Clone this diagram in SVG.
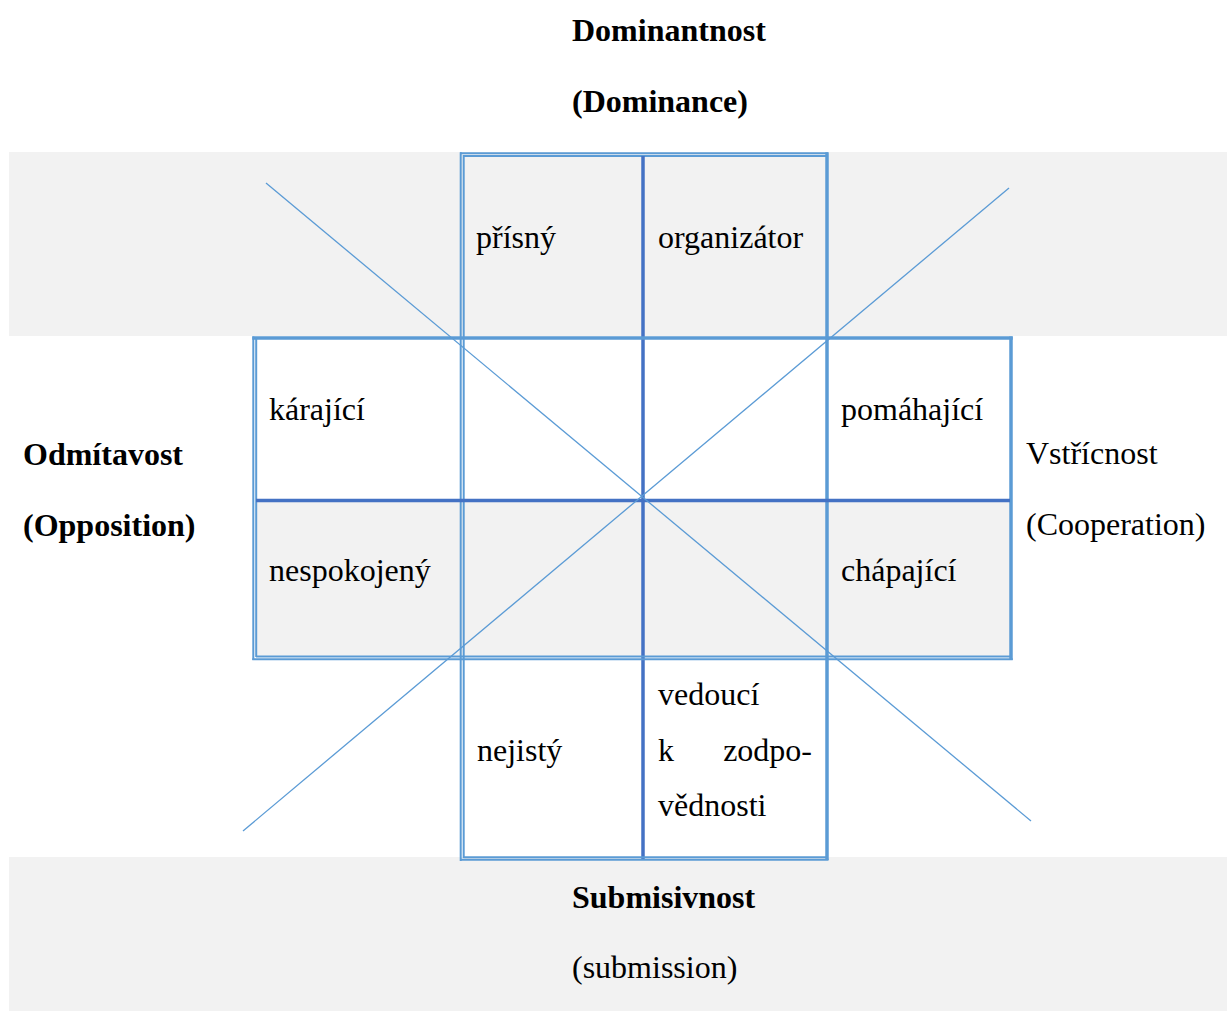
<svg xmlns="http://www.w3.org/2000/svg" width="1227" height="1011" viewBox="0 0 1227 1011">
  <style>
    .t { font-family: "Liberation Serif", "Times New Roman", serif; font-size: 32px; fill: #000; }
    .b { font-weight: bold; }
    .band { fill: #F2F2F2; }
    .lb { stroke: #5B9BD5; fill: none; }
    .db { stroke: #4472C4; fill: none; }
    .thin { stroke-width: 2; }
    .thick { stroke-width: 3.5; }
    .diag { stroke: #5B9BD5; stroke-width: 1.3; fill: none; }
  </style>

  <rect width="1227" height="1011" fill="#FFFFFF"/>

  <!-- shaded bands and shaded cells -->
  <g id="shading">
    <rect class="band" x="9" y="152" width="1218" height="184"/>
    <rect class="band" x="257" y="501" width="753" height="155"/>
    <rect class="band" x="9" y="857" width="1218" height="154"/>
  </g>

  <!-- axis labels -->
  <g id="axis-top">
    <text class="t b" x="572" y="41">Dominantnost</text>
    <text class="t b" x="572" y="112">(Dominance)</text>
  </g>
  <g id="axis-left">
    <text class="t b" x="23" y="465">Odmítavost</text>
    <text class="t b" x="23" y="536">(Opposition)</text>
  </g>
  <g id="axis-right">
    <text class="t" x="1026" y="464">Vstřícnost</text>
    <text class="t" x="1026" y="535">(Cooperation)</text>
  </g>
  <g id="axis-bottom">
    <text class="t b" x="572" y="908">Submisivnost</text>
    <text class="t" x="572" y="978">(submission)</text>
  </g>

  <!-- grid borders -->
  <g id="grid">
    <!-- top block -->
    <line class="lb thin" x1="460" y1="153.3" x2="828" y2="153.3"/>
    <line class="lb thin" x1="463.5" y1="156" x2="826" y2="156"/>
    <line class="lb thin" x1="460.7" y1="152.3" x2="460.7" y2="861"/>
    <line class="lb thin" x1="463.7" y1="155" x2="463.7" y2="858"/>
    <line class="lb thick" x1="827" y1="152.3" x2="827" y2="860"/>
    <line class="db thick" x1="643" y1="156" x2="643" y2="860"/>
    <!-- middle block -->
    <line class="lb thick" x1="252.3" y1="338" x2="1012.7" y2="338"/>
    <line class="lb thin" x1="253.3" y1="336.5" x2="253.3" y2="660"/>
    <line class="lb thin" x1="256.2" y1="338" x2="256.2" y2="657"/>
    <line class="lb thick" x1="1011" y1="336.5" x2="1011" y2="660"/>
    <line class="db thick" x1="256" y1="500.5" x2="1010" y2="500.5"/>
    <line class="lb thin" x1="256" y1="656.5" x2="1010" y2="656.5"/>
    <line class="lb thin" x1="252.3" y1="659.3" x2="1012.7" y2="659.3"/>
    <!-- bottom block -->
    <line class="lb thin" x1="463.5" y1="857.3" x2="827" y2="857.3"/>
    <line class="lb thin" x1="460" y1="859.8" x2="828.5" y2="859.8"/>
  </g>

  <!-- cells -->
  <g id="cell-prisny"><text class="t" x="476" y="248">přísný</text></g>
  <g id="cell-organizator"><text class="t" x="658" y="248">organizátor</text></g>
  <g id="cell-karajici"><text class="t" x="269" y="420">kárající</text></g>
  <g id="cell-center-tl"/>
  <g id="cell-center-tr"/>
  <g id="cell-pomahajici"><text class="t" x="841" y="420">pomáhající</text></g>
  <g id="cell-nespokojeny"><text class="t" x="269" y="581">nespokojený</text></g>
  <g id="cell-center-bl"/>
  <g id="cell-center-br"/>
  <g id="cell-chapajici"><text class="t" x="841" y="581">chápající</text></g>
  <g id="cell-nejisty"><text class="t" x="477" y="761">nejistý</text></g>
  <g id="cell-vedouci">
    <text class="t" x="658" y="705">vedoucí</text>
    <text class="t" x="658" y="761">k</text>
    <text class="t" x="812" y="761" text-anchor="end">zodpo-</text>
    <text class="t" x="658" y="816">vědnosti</text>
  </g>

  <!-- diagonal connectors -->
  <g id="connectors">
    <line class="diag" x1="266" y1="183" x2="1031" y2="821"/>
    <line class="diag" x1="1009" y1="188" x2="243" y2="831"/>
  </g>
</svg>
